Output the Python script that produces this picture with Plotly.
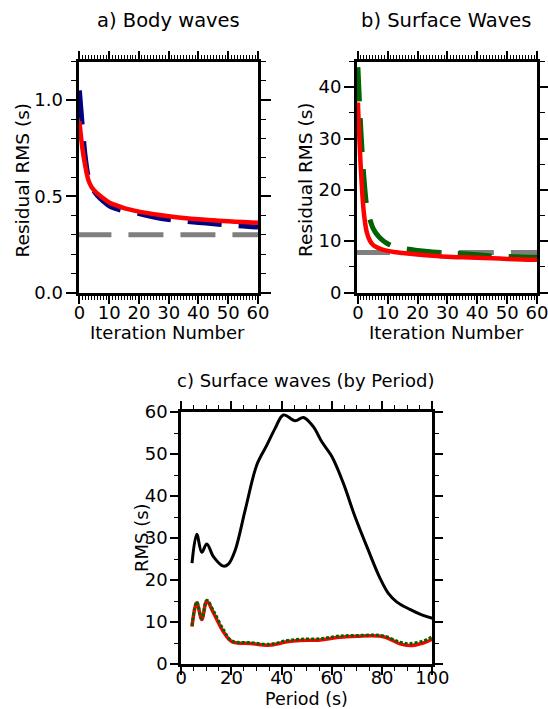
import plotly.graph_objects as go

W, H = 548, 709

# ---------------- data ----------------
# a) Body waves
iter_a = [0, 1, 2, 3, 4, 5, 6, 8, 10, 12, 15, 20, 25, 30, 35, 40, 45, 50, 55, 60]
body_red = [0.89, 0.75, 0.655, 0.585, 0.55, 0.53, 0.515, 0.49, 0.468, 0.455, 0.438, 0.42,
            0.407, 0.396, 0.387, 0.38, 0.375, 0.37, 0.366, 0.362]
body_blue = [1.05, 0.86, 0.70, 0.60, 0.555, 0.525, 0.505, 0.475, 0.45, 0.437, 0.424, 0.41,
             0.392, 0.379, 0.371, 0.364, 0.357, 0.35, 0.346, 0.34]
body_target = 0.30

# b) Surface waves
iter_b = [0, 1, 2, 3, 4, 5, 6, 8, 10, 12, 15, 20, 25, 30, 35, 40, 45, 50, 55, 60]
surf_red = [37.0, 24.0, 15.5, 11.7, 10.1, 9.3, 8.9, 8.4, 8.1, 7.9, 7.7, 7.4,
            7.15, 6.95, 6.85, 6.75, 6.65, 6.55, 6.45, 6.4]
surf_green = [43.9, 31.6, 22.5, 16.7, 14.3, 12.6, 11.6, 10.3, 9.5, 9.0, 8.6, 8.2,
              7.9, 7.7, 7.55, 7.35, 7.1, 7.0, 6.9, 6.85]
surf_target = 7.8

# c) Surface waves by period
period_black = [4.3, 6.2, 8.2, 10.2, 12.9, 16.8, 18.8, 21.5, 25.5, 30.1, 34.1, 37.4, 40.7,
                45.4, 48.7, 52.6, 56.0, 60.0, 64.6, 69.2, 74.5, 79.2, 82.5, 85.8, 91.1, 95.8, 100.0]
rms_black = [24.0, 30.9, 26.6, 28.6, 25.5, 23.3, 23.8, 27.1, 36.7, 47.4, 52.1, 56.1, 59.3,
             57.9, 58.7, 56.5, 52.9, 49.4, 43.0, 35.1, 27.1, 20.4, 16.8, 14.8, 13.0, 11.7, 10.9]
period_final = [4.3, 6.2, 8.2, 10.2, 12.9, 16.8, 20.2, 27.5, 35.4, 42.1, 47.4, 55.3, 62.0,
                69.9, 80.5, 87.1, 91.1, 96.4, 100.0]
rms_red = [8.9, 14.6, 10.6, 15.0, 12.1, 7.7, 5.3, 4.9, 4.5, 5.3, 5.6, 5.7, 6.3,
           6.6, 6.5, 4.8, 4.4, 5.0, 5.9]
rms_green = [9.1, 14.8, 10.8, 15.2, 12.6, 8.2, 5.5, 5.1, 4.7, 5.6, 5.9, 6.0, 6.6,
             6.8, 6.7, 5.2, 4.9, 5.5, 6.5]

RED = "#ff0000"
NAVY = "#000080"
DKGREEN = "#006400"
GRAY = "#7f7f7f"
FONT = "DejaVu Sans"

fig = go.Figure()

# panel a
fig.add_trace(go.Scatter(x=[iter_a[0] - 1, iter_a[-1] + 1], y=[body_target, body_target],
                         mode="lines", line=dict(color=GRAY, width=5, dash="35px,17px"),
                         xaxis="x", yaxis="y", showlegend=False))
fig.add_trace(go.Scatter(x=iter_a, y=body_blue, mode="lines",
                         line=dict(color=NAVY, width=5, dash="34px,17px", shape="spline", smoothing=1),
                         xaxis="x", yaxis="y", showlegend=False))
fig.add_trace(go.Scatter(x=iter_a, y=body_red, mode="lines",
                         line=dict(color=RED, width=4.5, shape="spline", smoothing=1),
                         xaxis="x", yaxis="y", showlegend=False))

# panel b
fig.add_trace(go.Scatter(x=[iter_b[0] - 1, iter_b[-1] + 1], y=[surf_target, surf_target],
                         mode="lines", line=dict(color=GRAY, width=5, dash="35px,17px"),
                         xaxis="x2", yaxis="y2", showlegend=False))
fig.add_trace(go.Scatter(x=iter_b, y=surf_green, mode="lines",
                         line=dict(color=DKGREEN, width=5, dash="34px,17px", shape="spline", smoothing=1),
                         xaxis="x2", yaxis="y2", showlegend=False))
fig.add_trace(go.Scatter(x=iter_b, y=surf_red, mode="lines",
                         line=dict(color=RED, width=4.5, shape="spline", smoothing=1),
                         xaxis="x2", yaxis="y2", showlegend=False))

# panel c
fig.add_trace(go.Scatter(x=period_black, y=rms_black, mode="lines",
                         line=dict(color="black", width=3, shape="spline", smoothing=1),
                         xaxis="x3", yaxis="y3", showlegend=False))
fig.add_trace(go.Scatter(x=period_final, y=rms_red, mode="lines",
                         line=dict(color=RED, width=3.5, shape="spline", smoothing=1),
                         xaxis="x3", yaxis="y3", showlegend=False))
fig.add_trace(go.Scatter(x=period_final, y=rms_green, mode="lines",
                         line=dict(color=DKGREEN, width=3, dash="3px,2px", shape="spline", smoothing=1),
                         xaxis="x3", yaxis="y3", showlegend=False))


def px_x(p):
    return p / W


def px_y(p):
    return 1 - p / H


def axis(dom, rng, dtick, mdtick, anchor, ticklen, mlen, standoff, fmt=None):
    d = dict(domain=dom, range=rng, dtick=dtick, tick0=0, anchor=anchor,
             automargin=False, ticklabeloverflow="allow",
             showline=True, linewidth=3, linecolor="black", mirror="allticks",
             ticks="outside", ticklen=ticklen, tickwidth=1.5, tickcolor="black",
             showgrid=False, zeroline=False, fixedrange=True,
             ticklabelstandoff=standoff,
             tickfont=dict(family=FONT, size=18, color="black"),
             minor=dict(ticks="outside", ticklen=mlen, tickwidth=1.2, tickcolor="black",
                        dtick=mdtick, tick0=0, showgrid=False))
    if fmt:
        d["tickformat"] = fmt
    return d


fig.update_layout(
    template="none",
    width=W, height=H, autosize=False,
    margin=dict(l=0, r=0, t=0, b=0, pad=0, autoexpand=False),
    paper_bgcolor="white", plot_bgcolor="white",
    font=dict(family=FONT, size=18, color="black"),
    showlegend=False,
    xaxis=axis([px_x(78.5), px_x(258)], [-0.3, 60], 10, 1, "y", 8, 4, -6),
    yaxis=axis([px_y(292.5), px_y(61.5)], [0, 1.2], 0.5, 0.1, "x", 10, 5, -1, ".1f"),
    xaxis2=axis([px_x(357), px_x(537)], [-0.3, 60], 10, 1, "y2", 8, 4, -6),
    yaxis2=axis([px_y(292.5), px_y(61.5)], [0, 45], 10, 5, "x2", 10, 5, -1),
    xaxis3=axis([px_x(181.2), px_x(432.3)], [0, 100], 20, 5, "y3", 8, 4, -13),
    yaxis3=axis([px_y(664), px_y(412)], [0, 60], 10, 5, "x3", 8, 4, -1),
)

texts = [
    ("a) Body waves", 168, 21, 0, 19.5),
    ("b) Surface Waves", 446, 21, 0, 19.5),
    ("Residual RMS (s)", 21.5, 180, -90, 18.5),
    ("Residual RMS (s)", 305, 180, -90, 18.5),
    ("Iteration Number", 167.5, 333, 0, 18),
    ("Iteration Number", 446, 333, 0, 18),
    ("c) Surface waves (by Period)", 305, 380, 0, 18),
    ("RMS (s)", 141, 538, -90, 18),
    ("Period (s)", 306, 699, 0, 17.5),
]
for t, x, y, ang, fs in texts:
    fig.add_annotation(text=t, x=px_x(x), y=px_y(y), xref="paper", yref="paper",
                       xanchor="center", yanchor="middle", showarrow=False, textangle=ang,
                       font=dict(family=FONT, size=fs, color="black"))

fig.write_html("out.html",
               post_script="document.body.style.margin='0';document.body.style.overflow='hidden';")
